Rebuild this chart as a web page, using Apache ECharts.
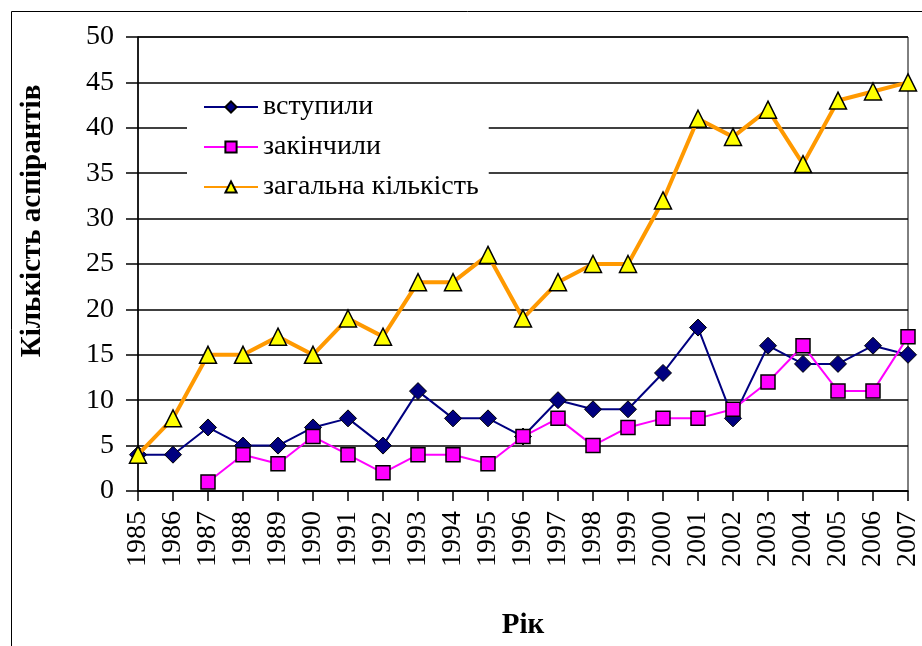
<!DOCTYPE html>
<html lang="uk">

<head>
    <meta charset="UTF-8">
    <title>Кількість аспірантів</title>
    <script src="https://cdn.jsdelivr.net/npm/echarts@6/dist/echarts.min.js"></script>
    <style>
        * {
            margin: 0;
            padding: 0;
        }

        #main {
            width: 922px;
            height: 646px;
            background: #fff;
        }
    </style>
</head>

<body>
    <div id="main"></div>
    <script>
        let years = ['1985', '1986', '1987', '1988', '1989', '1990', '1991', '1992', '1993', '1994', '1995', '1996',
            '1997', '1998', '1999', '2000', '2001', '2002', '2003', '2004', '2005', '2006', '2007'];
        let entered = [4, 4, 7, 5, 5, 7, 8, 5, 11, 8, 8, 6, 10, 9, 9, 13, 18, 8, 16, 14, 14, 16, 15];
        let finished = ['-', '-', 1, 4, 3, 6, 4, 2, 4, 4, 3, 6, 8, 5, 7, 8, 8, 9, 12, 16, 11, 11, 17];
        let total = [4, 8, 15, 15, 17, 15, 19, 17, 23, 23, 26, 19, 23, 25, 25, 32, 41, 39, 42, 36, 43, 44, 45];
        let seriesNames = ['вступили', 'закінчили', 'загальна кількість'];

        let font = 'Liberation Serif';
        let myChart = echarts.init(document.getElementById('main'));

        let option = {
            animation: false,
            backgroundColor: '#fff',
            textStyle: { fontFamily: font, color: '#000' },
            grid: {
                left: 138,
                right: 11,
                top: 37,
                bottom: 155,
                show: true,
                borderColor: '#000',
                borderWidth: 1
            },
            legend: {
                orient: 'vertical',
                left: 187,
                top: 85,
                padding: [8, 10, 10, 16],
                backgroundColor: '#fff',
                itemWidth: 54,
                itemHeight: 14,
                itemGap: 12,
                textStyle: { fontFamily: font, fontSize: 28, lineHeight: 28, color: '#000' },
                data: seriesNames
            },
            xAxis: {
                type: 'category',
                data: years,
                boundaryGap: false,
                name: 'Рік',
                nameLocation: 'middle',
                nameGap: 120,
                nameTextStyle: { fontFamily: font, fontSize: 29, fontWeight: 'bold', color: '#000' },
                axisLine: { lineStyle: { color: '#000', width: 1.5 } },
                axisTick: { show: true, length: 10, alignWithLabel: true, lineStyle: { color: '#000', width: 1.5 } },
                axisLabel: { interval: 0, rotate: 90, margin: 20, fontFamily: font, fontSize: 28, color: '#000' },
                splitLine: { show: false }
            },
            yAxis: {
                type: 'value',
                min: 0,
                max: 50,
                interval: 5,
                axisLine: { show: true, lineStyle: { color: '#000', width: 1.5 } },
                axisTick: { show: true, length: 12, lineStyle: { color: '#000', width: 1.5 } },
                axisLabel: { margin: 24, fontFamily: font, fontSize: 28, color: '#000' },
                splitLine: { lineStyle: { color: '#000', width: 1.5 } }
            },
            graphic: [{
                type: 'rect',
                left: 9,
                top: 9,
                shape: { width: 1000, height: 1000 },
                style: { fill: 'none', stroke: '#000', lineWidth: 1 },
                silent: true
            }, {
                type: 'text',
                x: 33,
                y: 221,
                rotation: Math.PI / 2,
                style: {
                    text: 'Кількість аспірантів',
                    font: 'bold 29px "Liberation Serif"',
                    fill: '#000',
                    align: 'center',
                    verticalAlign: 'middle'
                }
            }],
            series: [{
                name: seriesNames[0],
                type: 'line',
                data: entered,
                symbol: 'diamond',
                symbolSize: 17,
                z: 3,
                lineStyle: { color: '#000080', width: 2 },
                itemStyle: { color: '#000080', borderColor: '#000', borderWidth: 1 }
            }, {
                name: seriesNames[1],
                type: 'line',
                data: finished,
                symbol: 'rect',
                symbolSize: 14,
                z: 4,
                lineStyle: { color: '#ff00ff', width: 2 },
                itemStyle: { color: '#ff00ff', borderColor: '#000', borderWidth: 1.5 }
            }, {
                name: seriesNames[2],
                type: 'line',
                data: total,
                symbol: 'triangle',
                symbolSize: 17,
                z: 5,
                lineStyle: { color: '#ff9900', width: 4 },
                itemStyle: { color: '#ffff00', borderColor: '#000', borderWidth: 1.5 }
            }]
        };

        myChart.setOption(option);
    </script>
</body>

</html>
